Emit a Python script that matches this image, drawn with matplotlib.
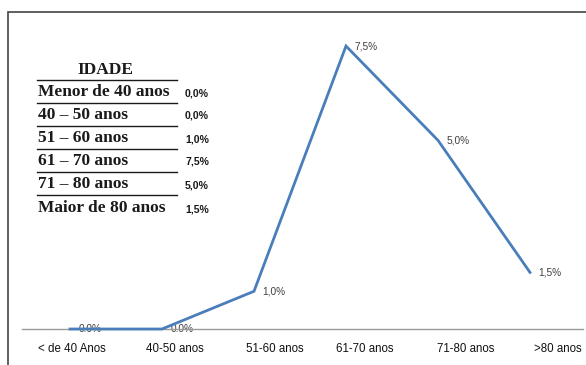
import numpy as np
import matplotlib
matplotlib.use('Agg')
import matplotlib.pyplot as plt

# faixas etarias e percentuais
categorias = ['< de 40 Anos', '40-50 anos', '51-60 anos', '61-70 anos', '71-80 anos', '>80 anos']
valores = [0.0, 0.0, 1.0, 7.5, 5.0, 1.5]
rotulos = ['0.0%', '0.0%', '1,0%', '7,5%', '5,0%', '1,5%']

tabela_faixas = ['Menor de 40 anos', '40 \u2013 50 anos', '51 \u2013 60 anos',
                 '61 \u2013 70 anos', '71 \u2013 80 anos', 'Maior de 80 anos']
tabela_valores = ['0,0%', '0,0%', '1,0%', '7,5%', '5,0%', '1,5%']

W, H = 586, 365
fig = plt.figure(figsize=(W / 100, H / 100), dpi=100)

# moldura do grafico (cortada a direita e embaixo)
moldura = plt.Rectangle((8 / W, -0.1), 1.2, 1 - 12 / H + 0.1, transform=fig.transFigure,
                        fill=False, edgecolor='#444444', linewidth=1.2, clip_on=False)
fig.patches.append(moldura)

ax = fig.add_axes([22 / W, 0, (583 - 22) / W, 1 - 20 / H])
x = np.arange(len(categorias))
ax.plot(x, valores, color='#4a7ebb', linewidth=2.0, zorder=3, solid_joinstyle='miter')
for xi, v, r in zip(x, valores, rotulos):
    ax.annotate(r, (xi, v), xytext=(6, 0), textcoords='offset points',
                ha='left', va='center', fontsize=7.3, color='#404040',
                family='Liberation Sans', zorder=1)

ax.set_xlim((22 - 70) / 92, (583 - 70) / 92)
ax.set_ylim(-(H - 329) / 37.73, (329 - 20) / 37.73)
for s in ['top', 'right', 'left']:
    ax.spines[s].set_visible(False)
ax.spines['bottom'].set_position(('data', 0))
ax.spines['bottom'].set_color('#9a9a9a')
ax.spines['bottom'].set_linewidth(1.0)
ax.set_yticks([])
# rotulos do eixo levemente deslocados em relacao aos pontos
tick_pos = [0.02, 1.14, 2.23, 3.2, 4.3, 5.3]
ax.set_xticks(tick_pos)
ax.set_xticklabels(categorias, fontsize=8.3, color='#111111', family='Liberation Sans')
ax.tick_params(axis='x', length=0, pad=10)
ax.patch.set_visible(False)

# tabela de idade no canto superior esquerdo
serif = dict(family='Liberation Serif', fontweight='bold', color='#1a1a1a')
fig.text(105 / W, 1 - 70 / H, 'IDADE', ha='center', va='center', fontsize=12.5, **serif)
linhas_y = [80, 103, 126, 149, 172, 195]
texto_y = [92, 115, 138, 161, 184, 208]
for ly in linhas_y:
    fig.add_artist(plt.Line2D([37 / W, 177 / W], [1 - ly / H, 1 - ly / H],
                              color='#1a1a1a', linewidth=1.0))
for ty, faixa, val in zip(texto_y, tabela_faixas, tabela_valores):
    fig.text(38 / W, 1 - ty / H, faixa, ha='left', va='center', fontsize=12.5, **serif)
    fig.text(185 / W, 1 - (ty + 1) / H, val, ha='left', va='center', fontsize=7.6,
             fontweight='bold', color='#1a1a1a', family='Liberation Sans')

fig.savefig('out.png', dpi=100)
